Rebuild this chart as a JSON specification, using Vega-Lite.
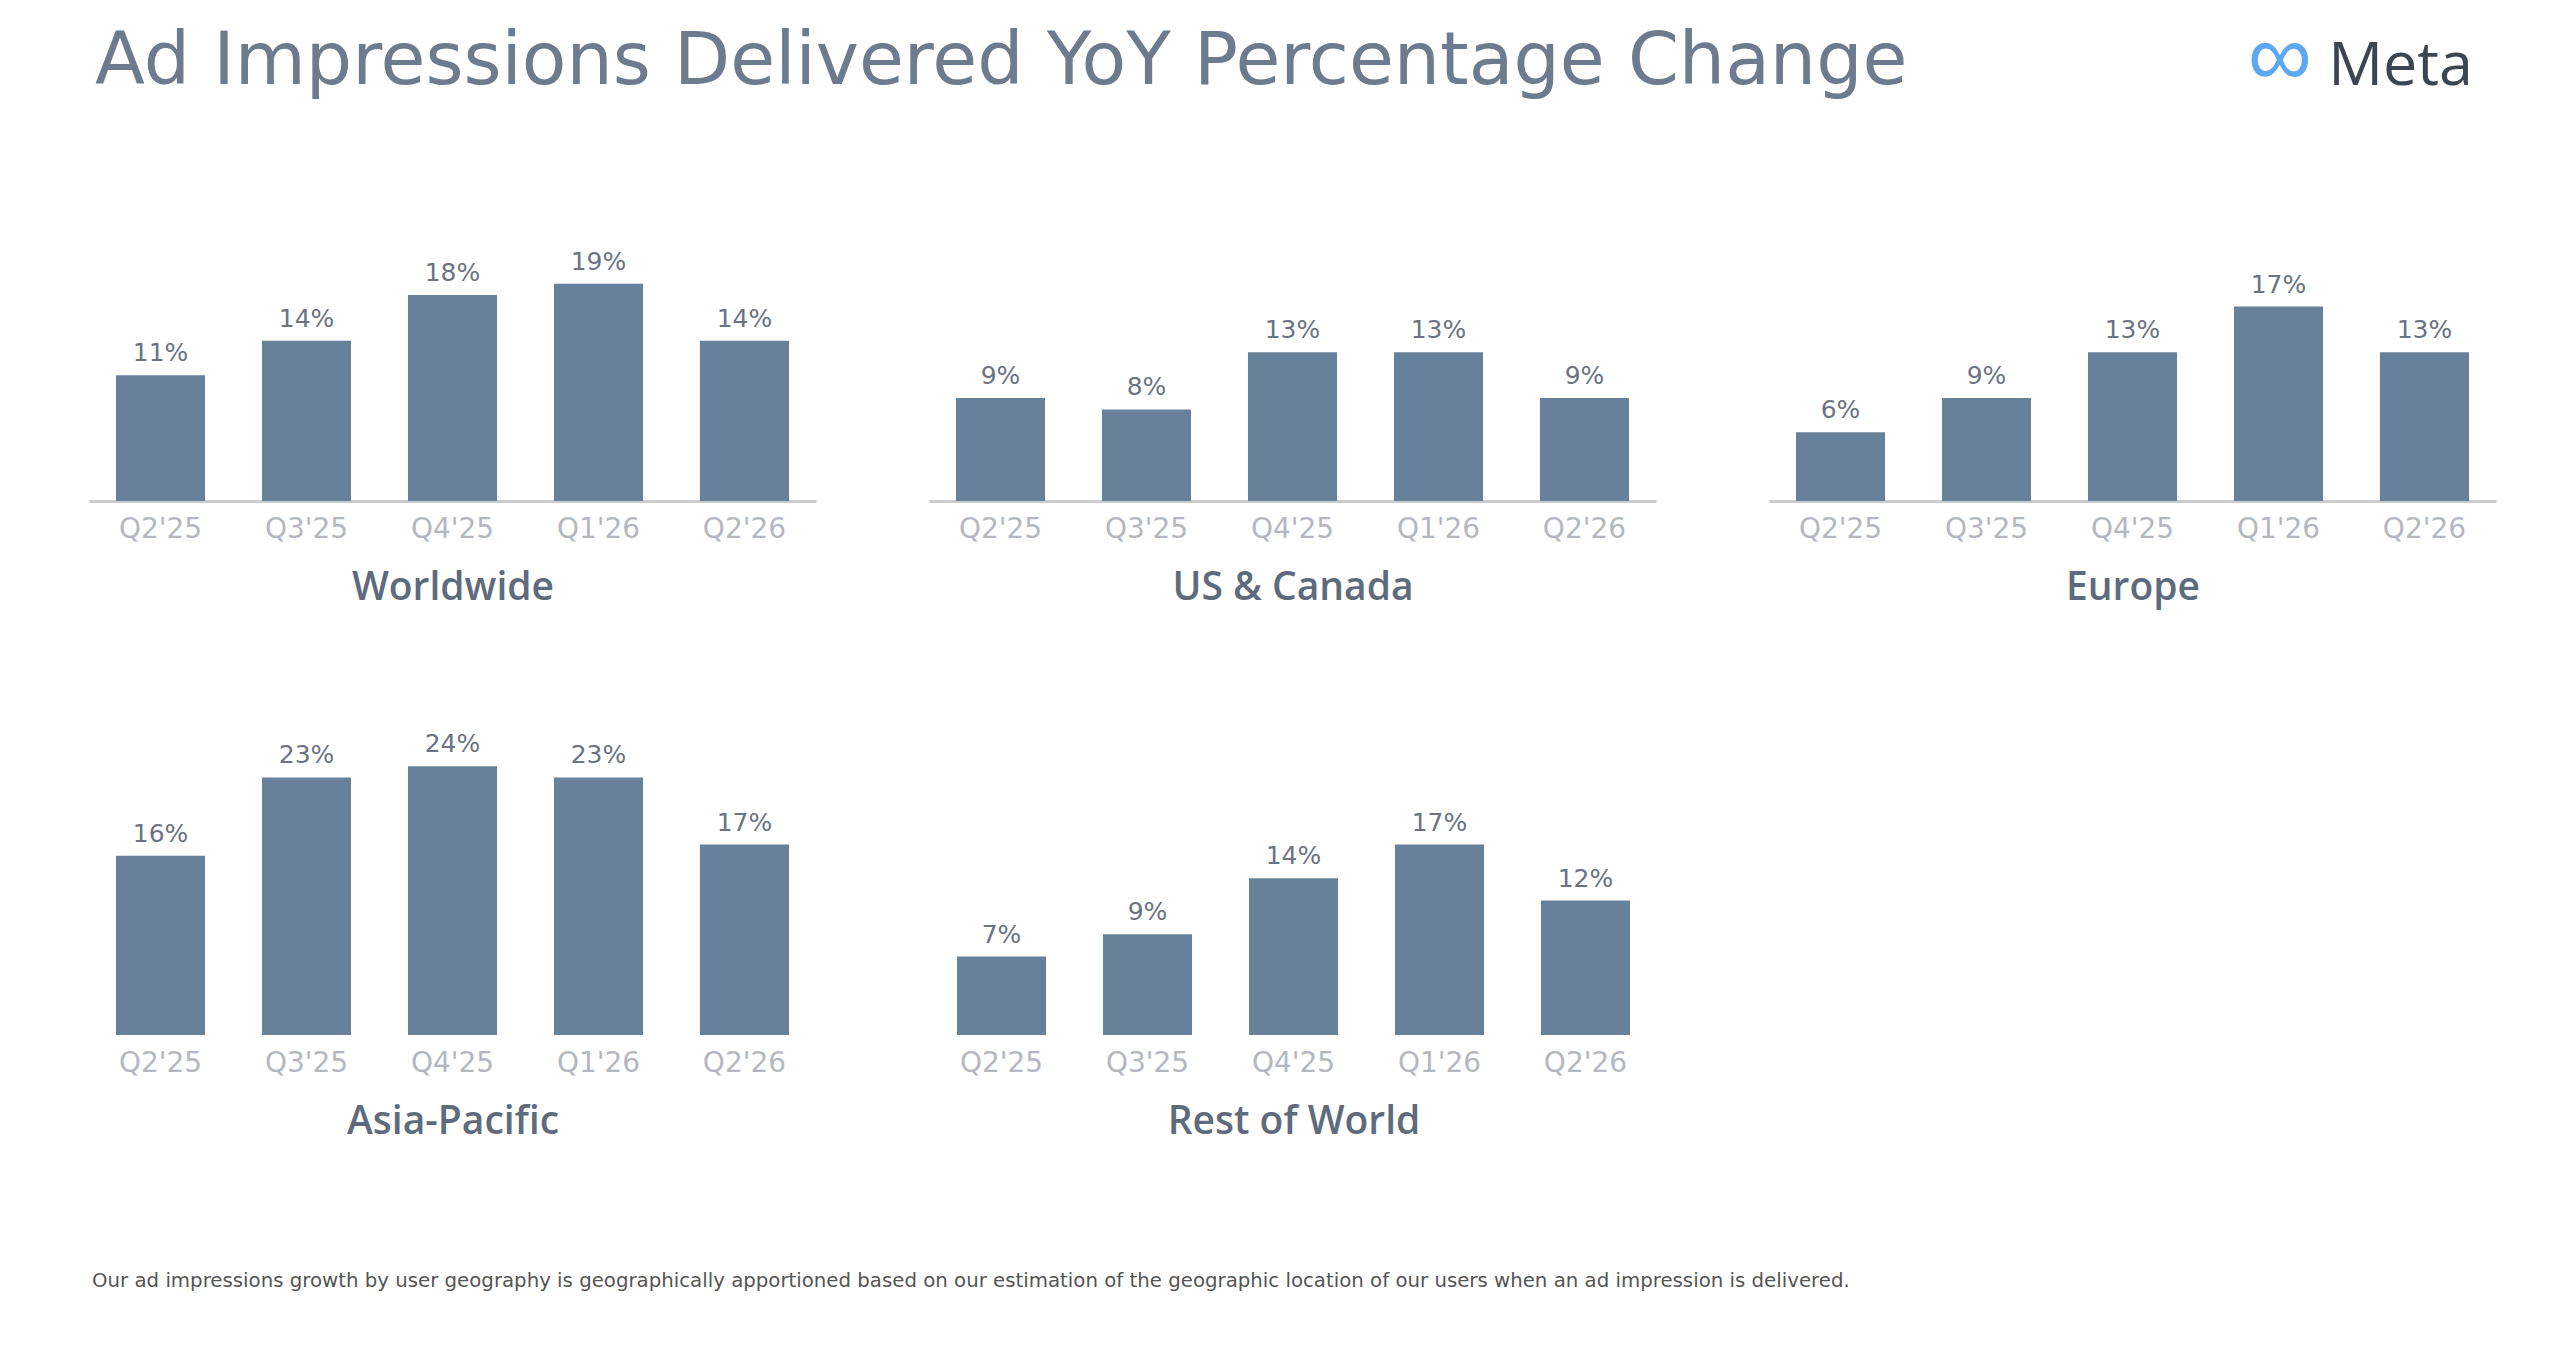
{
  "$schema": "https://vega.github.io/schema/vega-lite/v6.json",
  "background": "white",
  "padding": {"left": 89, "top": 14, "right": 20, "bottom": 20},
  "title": {"text": "Ad Impressions Delivered YoY Percentage Change", "anchor": "start", "font": "DejaVu Sans", "fontSize": 73, "fontWeight": 400, "color": "#6c7b8e", "dx": 6, "offset": -85},
  "datasets": {
    "impr": [
      {"region": "Worldwide", "quarter": "Q2'25", "value": 0.11},
      {"region": "Worldwide", "quarter": "Q3'25", "value": 0.14},
      {"region": "Worldwide", "quarter": "Q4'25", "value": 0.18},
      {"region": "Worldwide", "quarter": "Q1'26", "value": 0.19},
      {"region": "Worldwide", "quarter": "Q2'26", "value": 0.14},
      {"region": "US & Canada", "quarter": "Q2'25", "value": 0.09},
      {"region": "US & Canada", "quarter": "Q3'25", "value": 0.08},
      {"region": "US & Canada", "quarter": "Q4'25", "value": 0.13},
      {"region": "US & Canada", "quarter": "Q1'26", "value": 0.13},
      {"region": "US & Canada", "quarter": "Q2'26", "value": 0.09},
      {"region": "Europe", "quarter": "Q2'25", "value": 0.06},
      {"region": "Europe", "quarter": "Q3'25", "value": 0.09},
      {"region": "Europe", "quarter": "Q4'25", "value": 0.13},
      {"region": "Europe", "quarter": "Q1'26", "value": 0.17},
      {"region": "Europe", "quarter": "Q2'26", "value": 0.13},
      {"region": "Asia-Pacific", "quarter": "Q2'25", "value": 0.16},
      {"region": "Asia-Pacific", "quarter": "Q3'25", "value": 0.23},
      {"region": "Asia-Pacific", "quarter": "Q4'25", "value": 0.24},
      {"region": "Asia-Pacific", "quarter": "Q1'26", "value": 0.23},
      {"region": "Asia-Pacific", "quarter": "Q2'26", "value": 0.17},
      {"region": "Rest of World", "quarter": "Q2'25", "value": 0.07},
      {"region": "Rest of World", "quarter": "Q3'25", "value": 0.09},
      {"region": "Rest of World", "quarter": "Q4'25", "value": 0.14},
      {"region": "Rest of World", "quarter": "Q1'26", "value": 0.17},
      {"region": "Rest of World", "quarter": "Q2'26", "value": 0.12}
    ]
  },
  "config": {
    "view": {"stroke": null},
    "axisX": {"domain": true, "domainColor": "#cbcccf", "domainWidth": 3, "ticks": false, "tickSize": 0, "grid": false, "labelFont": "DejaVu Sans", "labelFontSize": 28, "labelColor": "#b4b8be", "labelPadding": 14, "labelAngle": 0, "titleFont": "Open Sans", "titleFontSize": 39, "titleFontWeight": 600, "titleColor": "#5e6b7d", "titlePadding": 25},
    "text": {"font": "DejaVu Sans", "fontSize": 25, "color": "#6b7381"},
    "bar": {"color": "#68819a"}
  },
  "bounds": "flush",
  "spacing": 540,
  "vconcat": [
    {
      "title": {"text": "Meta", "anchor": "end", "font": "Open Sans", "fontSize": 61, "fontWeight": 500, "color": "#3c4550", "dx": -23, "offset": -84},
      "spacing": 113,
      "hconcat": [
        {
          "width": 727, "height": 286,
          "data": {"name": "impr"},
          "transform": [{"filter": {"field": "region", "equal": "Worldwide"}}],
          "encoding": {
            "x": {"field": "quarter", "type": "nominal", "sort": null, "scale": {"paddingInner": 0.39, "paddingOuter": 0.185}, "axis": {"title": "Worldwide"}},
            "y": {"field": "value", "type": "quantitative", "scale": {"domain": [0, 0.25]}, "axis": null}
          },
          "layer": [
            {"mark": {"type": "bar"}},
            {"mark": {"type": "text", "baseline": "alphabetic", "dy": -14}, "encoding": {"text": {"field": "value", "type": "quantitative", "format": ".0%"}}}
          ]
        },
        {
          "width": 727, "height": 286,
          "data": {"name": "impr"},
          "transform": [{"filter": {"field": "region", "equal": "US & Canada"}}],
          "encoding": {
            "x": {"field": "quarter", "type": "nominal", "sort": null, "scale": {"paddingInner": 0.39, "paddingOuter": 0.185}, "axis": {"title": "US & Canada"}},
            "y": {"field": "value", "type": "quantitative", "scale": {"domain": [0, 0.25]}, "axis": null}
          },
          "layer": [
            {"mark": {"type": "bar"}},
            {"mark": {"type": "text", "baseline": "alphabetic", "dy": -14}, "encoding": {"text": {"field": "value", "type": "quantitative", "format": ".0%"}}}
          ]
        },
        {
          "width": 727, "height": 286,
          "title": {"text": "∞", "anchor": "end", "font": "Liberation Sans", "fontSize": 90, "fontWeight": 400, "color": "#5ea8f3", "dx": -184, "offset": 110},
          "data": {"name": "impr"},
          "transform": [{"filter": {"field": "region", "equal": "Europe"}}],
          "encoding": {
            "x": {"field": "quarter", "type": "nominal", "sort": null, "scale": {"paddingInner": 0.39, "paddingOuter": 0.185}, "axis": {"title": "Europe"}},
            "y": {"field": "value", "type": "quantitative", "scale": {"domain": [0, 0.25]}, "axis": null}
          },
          "layer": [
            {"mark": {"type": "bar"}},
            {"mark": {"type": "text", "baseline": "alphabetic", "dy": -14}, "encoding": {"text": {"field": "value", "type": "quantitative", "format": ".0%"}}}
          ]
        }
      ]
    },
    {
      "title": {"text": "Our ad impressions growth by user geography is geographically apportioned based on our estimation of the geographic location of our users when an ad impression is delivered.", "orient": "bottom", "anchor": "start", "font": "DejaVu Sans", "fontSize": 19.75, "fontWeight": 400, "color": "#555555", "dx": 3, "offset": 130},
      "spacing": 114,
      "hconcat": [
        {
          "width": 727, "height": 280,
          "data": {"name": "impr"},
          "transform": [{"filter": {"field": "region", "equal": "Asia-Pacific"}}],
          "encoding": {
            "x": {"field": "quarter", "type": "nominal", "sort": null, "scale": {"paddingInner": 0.39, "paddingOuter": 0.185}, "axis": {"title": "Asia-Pacific", "domain": false}},
            "y": {"field": "value", "type": "quantitative", "scale": {"domain": [0, 0.25]}, "axis": null}
          },
          "layer": [
            {"mark": {"type": "bar"}},
            {"mark": {"type": "text", "baseline": "alphabetic", "dy": -14}, "encoding": {"text": {"field": "value", "type": "quantitative", "format": ".0%"}}}
          ]
        },
        {
          "width": 727, "height": 280,
          "data": {"name": "impr"},
          "transform": [{"filter": {"field": "region", "equal": "Rest of World"}}],
          "encoding": {
            "x": {"field": "quarter", "type": "nominal", "sort": null, "scale": {"paddingInner": 0.39, "paddingOuter": 0.185}, "axis": {"title": "Rest of World", "domain": false}},
            "y": {"field": "value", "type": "quantitative", "scale": {"domain": [0, 0.25]}, "axis": null}
          },
          "layer": [
            {"mark": {"type": "bar"}},
            {"mark": {"type": "text", "baseline": "alphabetic", "dy": -14}, "encoding": {"text": {"field": "value", "type": "quantitative", "format": ".0%"}}}
          ]
        }
      ]
    }
  ]
}
